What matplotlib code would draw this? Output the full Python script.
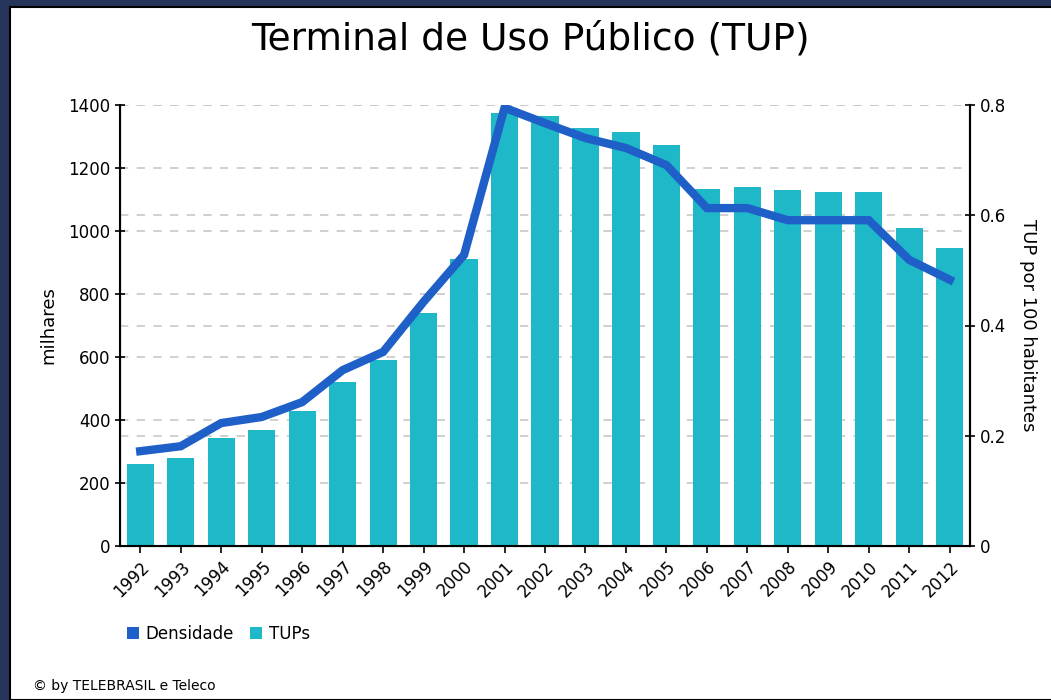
import numpy as np
import matplotlib.pyplot as plt
from matplotlib.patches import Rectangle, Patch
from matplotlib.transforms import blended_transform_factory

years = [str(y) for y in range(1992, 2013)]
tups = [260, 279, 343, 368, 429, 521, 590, 740, 911, 1375, 1365, 1327,
        1314, 1273, 1133, 1140, 1130, 1124, 1124, 1010, 946]
densidade = [0.172, 0.181, 0.223, 0.234, 0.261, 0.319, 0.352, 0.443, 0.528,
             0.795, 0.767, 0.740, 0.722, 0.691, 0.613, 0.613, 0.591, 0.591,
             0.591, 0.519, 0.483]
right_ticks = [0, 0.2, 0.4, 0.6, 0.8]

bar_color = "#1fb8c8"
line_color = "#1f5fc8"
grid_color = "#c8c8c8"

fig = plt.figure(figsize=(10.51, 7), dpi=100)
fig.patch.set_facecolor("#26365a")
fig.patches.append(Rectangle((10 / 1051, 0), 1, 1 - 7 / 700, transform=fig.transFigure,
                             facecolor="white", edgecolor="black", linewidth=1.5, zorder=-5))

ax = fig.add_axes([120 / 1051, 1 - 546 / 700, 850 / 1051, 441 / 700])
ax2 = ax.twinx()
ax.set_zorder(2)
ax2.set_zorder(1)
ax.set_facecolor("none")

x = np.arange(len(years))
ax.bar(x, tups, width=0.67, color=bar_color, zorder=2)
ax.set_ylim(0, 1400)
ax.set_xlim(-0.5, len(years) - 0.5)
ax.set_yticks(range(0, 1401, 200))
ax.set_xticks(x)
ax.set_xticklabels(years, rotation=45, ha="right", rotation_mode="anchor", fontsize=12)
ax.tick_params(axis="y", labelsize=12, direction="inout", length=7, width=1.2)
ax.tick_params(axis="x", direction="out", length=5, width=1.2)
ax.yaxis.grid(True, linestyle=(0, (5, 5)), color=grid_color, linewidth=1.2, zorder=0)
ax.set_axisbelow(True)
ax.spines["top"].set_visible(False)
for s in ["left", "right", "bottom"]:
    ax.spines[s].set_linewidth(1.5)
ax.set_ylabel("milhares", fontsize=13, labelpad=8)

# density line drawn in ax, scaled by right axis
ax2.set_ylim(0, 0.8)
tr = blended_transform_factory(ax.transData, ax2.transData)
tr_grid = blended_transform_factory(ax.transAxes, ax2.transData)
for v in right_ticks[1:]:
    ax.plot([0, 1], [v, v], transform=tr_grid, linestyle=(0, (5, 5)), color=grid_color,
            linewidth=1.2, zorder=0)
ax.plot(x, densidade, transform=tr, color=line_color, linewidth=6,
        solid_joinstyle="miter", zorder=3)

ax2.set_yticks(right_ticks)
ax2.set_yticklabels(["0", "0.2", "0.4", "0.6", "0.8"])
ax2.tick_params(axis="y", labelsize=12, direction="inout", length=7, width=1.2)
ax2.spines["top"].set_visible(False)
ax2.spines["right"].set_linewidth(1.5)
ax2.set_ylabel("TUP por 100 habitantes", fontsize=13, rotation=-90, labelpad=22)

fig.text(0.505, 0.943, "Terminal de Uso Público (TUP)", ha="center", va="center", fontsize=27)

handles = [Patch(facecolor=line_color), Patch(facecolor=bar_color)]
fig.legend(handles, ["Densidade", "TUPs"], loc="center left", bbox_to_anchor=(112 / 1051, 1 - 634 / 700),
           ncol=2, frameon=False, fontsize=12, handlelength=0.7, handleheight=0.7,
           handletextpad=0.4, columnspacing=1.0)

fig.text(33 / 1051, 1 - 686 / 700, "© by TELEBRASIL e Teleco", ha="left", va="center", fontsize=10)

plt.savefig("out.png", dpi=100)
